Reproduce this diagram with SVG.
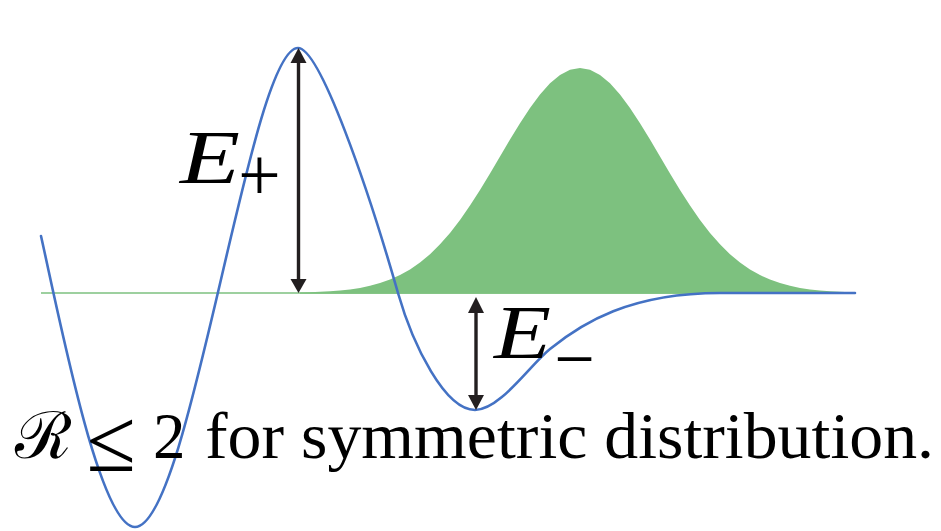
<svg xmlns="http://www.w3.org/2000/svg" width="941" height="531" viewBox="0 0 941 531">
<style>
.curve{fill:none;stroke:#4472C4;stroke-width:2.6;stroke-linecap:round;stroke-linejoin:round}
.base{stroke:#7DC17F;stroke-width:1.3}
.dist{fill:#7DC17F}
.arrow{stroke:#231F20;stroke-width:3.4;fill:none}
.head{fill:#231F20}
.math{font-family:"Liberation Serif","DejaVu Serif",serif;fill:#000}
.mi{font-style:italic}
</style>
<g id="baseline">
<line class="base" x1="41" y1="293" x2="855" y2="293"/>
</g>
<g id="distribution">
<path class="dist" d="M300,292.5 L310,292.24 320,291.85 330,291.3 340,290.5 350,289.4 360,287.9 370,285.8 380,283.1 390,279.6 400,275.1 410,269.5 420,262.6 430,254.2 440,244.3 450,232.9 460,219.9 470,205.6 480,190 490,173.5 500,156.5 510,139.6 520,123.2 530,107.9 540,94.4 550,83.3 560,74.9 570,69.75 580,68 590,69.75 600,74.9 610,83.3 620,94.4 630,107.9 640,123.2 650,139.6 660,156.5 670,173.5 680,190 690,205.6 700,219.9 710,232.9 720,244.3 730,254.2 740,262.6 750,269.5 760,275.1 770,279.6 780,283.1 790,285.8 800,287.9 810,289.4 820,290.5 830,291.3 840,291.85 850,292.24 855,292.4 L855,293.8 L300,293.8 Z"/>
</g>
<g id="wave">
<path class="curve" d="M41,236 C61,325.6 100,527 135,527 C190,527 250,48 298,48 C320,48 368,188 398,293 C413,345.5 445,410 475,410 C500,410 530,365 550,349 C582,323 630,293 720,293 L855,293"/>
</g>
<g id="connectors">
<g id="arrow-eplus">
<line class="arrow" x1="298.5" y1="60" x2="298.5" y2="281"/>
<polygon class="head" points="298.5,48 290.5,63 306.5,63"/>
<polygon class="head" points="298.5,293 290.5,279 306.5,279"/>
</g>
<g id="arrow-eminus">
<line class="arrow" x1="476" y1="310" x2="476" y2="397"/>
<polygon class="head" points="476,297 468,313 484,313"/>
<polygon class="head" points="476,410 468,395 484,395"/>
</g>
</g>
<g id="label-eplus">
<text class="math mi" x="180" y="183" font-size="77" textLength="60" lengthAdjust="spacingAndGlyphs">E</text>
<text class="math" x="259.5" y="200" font-size="76" text-anchor="middle">+</text>
</g>
<g id="label-eminus">
<text class="math mi" x="494" y="358" font-size="76" textLength="57" lengthAdjust="spacingAndGlyphs">E</text>
<text class="math" x="574.5" y="383" font-size="72" text-anchor="middle">−</text>
</g>
<g id="caption">
<text class="math" x="15" y="458" font-size="65">ℛ</text>
<text class="math" x="111" y="471" font-size="90" text-anchor="middle">≤</text>
<text class="math" x="153" y="458" font-size="65">2</text>
<text class="math" x="205" y="458" font-size="65" textLength="729" lengthAdjust="spacingAndGlyphs">for symmetric distribution.</text>
</g>
</svg>
